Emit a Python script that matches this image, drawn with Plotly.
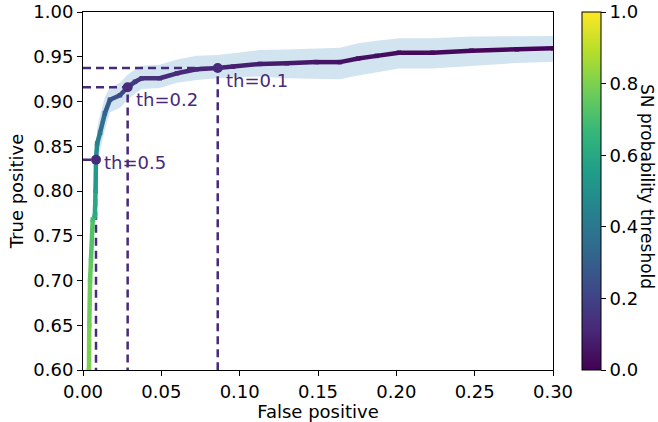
import plotly.graph_objects as go
from plotly.colors import sample_colorscale

# ROC curve data
fpr = [0.0038, 0.0040, 0.0045, 0.0051, 0.0062, 0.0076, 0.0080, 0.0083, 0.0090, 0.0109,
       0.0140, 0.0172, 0.0236, 0.0285, 0.0332, 0.0375, 0.0490, 0.0600, 0.0725, 0.0860,
       0.0958, 0.1130, 0.1300, 0.1490, 0.1640, 0.1756, 0.1875, 0.2017, 0.2230, 0.2480,
       0.2770, 0.3000]
tpr = [0.600, 0.650, 0.700, 0.723, 0.768, 0.772, 0.800, 0.835, 0.853, 0.865,
       0.887, 0.902, 0.907, 0.916, 0.922, 0.926, 0.926, 0.9315, 0.936, 0.9374,
       0.939, 0.942, 0.9427, 0.944, 0.944, 0.948, 0.951, 0.9545, 0.9545, 0.9568,
       0.9583, 0.9594]
thresh = [0.80, 0.79, 0.77, 0.75, 0.70, 0.62, 0.58, 0.50, 0.45, 0.40,
          0.32, 0.26, 0.23, 0.20, 0.17, 0.15, 0.13, 0.12, 0.11, 0.10,
          0.09, 0.08, 0.07, 0.06, 0.05, 0.045, 0.04, 0.03, 0.025, 0.02,
          0.015, 0.01]
tpr_upper = [0.615, 0.665, 0.715, 0.738, 0.783, 0.787, 0.815, 0.850, 0.870, 0.885,
             0.905, 0.916, 0.921, 0.930, 0.936, 0.940, 0.941, 0.947, 0.951, 0.952,
             0.954, 0.9575, 0.958, 0.9594, 0.960, 0.965, 0.968, 0.9706, 0.9706, 0.9725,
             0.973, 0.9732]
tpr_lower = [0.585, 0.635, 0.685, 0.708, 0.753, 0.757, 0.785, 0.820, 0.836, 0.845,
             0.869, 0.888, 0.893, 0.902, 0.909, 0.914, 0.915, 0.921, 0.924, 0.926,
             0.927, 0.928, 0.926, 0.925, 0.925, 0.929, 0.933, 0.937, 0.937, 0.940,
             0.943, 0.9445]

# Marked thresholds
mark_th = [0.5, 0.2, 0.1]
mark_fpr = [0.0083, 0.0285, 0.0860]
mark_tpr = [0.835, 0.916, 0.9374]
mark_labels = ["th=0.5", "th=0.2", "th=0.1"]
label_yshift = [-3, -12, -12]

x_ticks = [0.0, 0.05, 0.10, 0.15, 0.20, 0.25, 0.30]
y_ticks = [0.60, 0.65, 0.70, 0.75, 0.80, 0.85, 0.90, 0.95, 1.00]
cb_ticks = [0.0, 0.2, 0.4, 0.6, 0.8, 1.0]

PURPLE = "#472a7a"
FONT = "DejaVu Sans"
FS = 18

fig = go.Figure()

# uncertainty band
fig.add_trace(go.Scatter(x=fpr, y=tpr_lower, mode="lines", line=dict(width=0),
                         hoverinfo="skip", showlegend=False))
fig.add_trace(go.Scatter(x=fpr, y=tpr_upper, mode="lines", line=dict(width=0),
                         fill="tonexty", fillcolor="rgba(31,119,180,0.2)",
                         hoverinfo="skip", showlegend=False))

# dashed guide lines
for fx, fy in zip(mark_fpr, mark_tpr):
    fig.add_trace(go.Scatter(x=[0, fx, fx], y=[fy, fy, 0.6], mode="lines",
                             line=dict(color=PURPLE, width=2.5, dash="8px,5px"),
                             hoverinfo="skip", showlegend=False))

# coloured curve segments
for i in range(len(fpr) - 1):
    c = sample_colorscale("Viridis", [(thresh[i] + thresh[i + 1]) / 2])[0]
    fig.add_trace(go.Scatter(x=[fpr[i], fpr[i + 1]], y=[tpr[i], tpr[i + 1]],
                             mode="lines", line=dict(color=c, width=4.5),
                             hoverinfo="skip", showlegend=False))

# vertex markers + colorbar
fig.add_trace(go.Scatter(
    x=fpr, y=tpr, mode="markers",
    marker=dict(size=4.5, symbol="square", color=thresh, colorscale="Viridis",
                cmin=0, cmax=1, line=dict(width=0),
                colorbar=dict(
                    tickvals=cb_ticks, tickformat=".1f",
                    tickfont=dict(family=FONT, size=FS, color="black"),
                    ticks="outside", ticklen=5, tickcolor="black",
                    thickness=19, thicknessmode="pixels",
                    len=1, lenmode="fraction", y=1, yanchor="top",
                    x=1.0617, xanchor="left", xpad=0, ypad=0,
                    outlinewidth=1, outlinecolor="black")),
    showlegend=False, hoverinfo="skip"))

# threshold points
fig.add_trace(go.Scatter(x=mark_fpr, y=mark_tpr, mode="markers",
                         marker=dict(size=10, color=PURPLE),
                         showlegend=False, hoverinfo="skip"))

for fx, fy, lab, ys in zip(mark_fpr, mark_tpr, mark_labels, label_yshift):
    fig.add_annotation(x=fx, y=fy, text=lab, showarrow=False,
                       xanchor="left", yanchor="middle", xshift=6, yshift=ys,
                       font=dict(family=FONT, size=FS, color=PURPLE))

# colorbar title (reads top-to-bottom)
fig.add_annotation(x=1.2015, y=0.512, xref="paper", yref="paper",
                   text="SN probability threshold", textangle=90, showarrow=False,
                   xanchor="center", yanchor="middle",
                   font=dict(family=FONT, size=17, color="black"))

axis_common = dict(showgrid=False, zeroline=False, showline=True, linecolor="black",
                   linewidth=1, mirror=True, ticks="outside", ticklen=5,
                   tickcolor="black", automargin=False,
                   tickfont=dict(family=FONT, size=FS, color="black"))

fig.update_xaxes(range=[0, 0.30], tickvals=x_ticks, tickformat=".2f",
                 title=dict(text="False positive", font=dict(family=FONT, size=FS, color="black"),
                            standoff=3),
                 **axis_common)
fig.update_yaxes(range=[0.60, 1.00], tickvals=y_ticks, tickformat=".2f",
                 title=dict(text="True positive", font=dict(family=FONT, size=FS, color="black"),
                            standoff=5),
                 **axis_common)

fig.update_layout(width=658, height=422, margin=dict(l=83, r=105, t=12, b=52),
                  plot_bgcolor="white", paper_bgcolor="white",
                  font=dict(family=FONT, size=FS, color="black"))

fig.write_html("out.html")
